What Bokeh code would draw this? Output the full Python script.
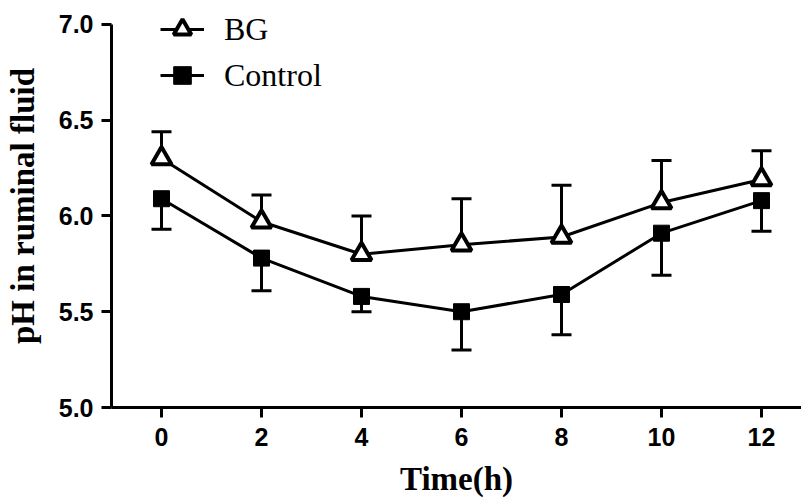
from bokeh.plotting import figure
from bokeh.models import ColumnDataSource, Range1d, FixedTicker, NumeralTickFormatter, Whisker, TeeHead, Legend, LegendItem
from bokeh.embed import file_html
from bokeh.resources import INLINE

time_h = [0, 2, 4, 6, 8, 10, 12]
bg_mean = [6.30, 5.97, 5.80, 5.85, 5.89, 6.07, 6.19]
bg_sd = [0.14, 0.14, 0.20, 0.24, 0.27, 0.22, 0.15]
ctrl_mean = [6.09, 5.78, 5.58, 5.50, 5.59, 5.91, 6.08]
ctrl_sd = [0.16, 0.17, 0.08, 0.20, 0.21, 0.22, 0.16]
x_ticks = [0, 2, 4, 6, 8, 10, 12]
y_ticks = [5.0, 5.5, 6.0, 6.5, 7.0]

bg = ColumnDataSource(dict(t=time_h, m=bg_mean,
                           up=[m + s for m, s in zip(bg_mean, bg_sd)]))
ct = ColumnDataSource(dict(t=time_h, m=ctrl_mean,
                           lo=[m - s for m, s in zip(ctrl_mean, ctrl_sd)]))

p = figure(width=801, height=499, output_backend="svg", toolbar_location=None,
           x_range=Range1d(-1, 12.8), y_range=Range1d(5.0, 7.104),
           min_border_left=111, min_border_right=0, min_border_top=4, min_border_bottom=91)
p.outline_line_color = None
p.grid.visible = False
p.background_fill_color = "white"
p.border_fill_color = "white"

for ax in (p.xaxis[0], p.yaxis[0]):
    ax.axis_line_width = 3
    ax.axis_line_color = "black"
    ax.major_tick_line_width = 3
    ax.major_tick_line_color = "black"
    ax.major_tick_out = 10
    ax.major_tick_in = 0
    ax.minor_tick_line_color = None
    ax.major_label_text_font = "Liberation Sans"
    ax.major_label_text_font_style = "bold"
    ax.major_label_text_font_size = "25px"
    ax.major_label_text_color = "black"
    ax.axis_label_text_font = "Liberation Serif"
    ax.axis_label_text_font_style = "bold"
    ax.axis_label_text_font_size = "33px"
    ax.axis_label_text_color = "black"

p.yaxis.bounds = (5.0, 7.0)
p.xaxis.ticker = FixedTicker(ticks=x_ticks)
p.yaxis.ticker = FixedTicker(ticks=y_ticks)
p.yaxis.formatter = NumeralTickFormatter(format="0.0")
p.xaxis.major_label_standoff = 10
p.yaxis.major_label_standoff = 8
p.xaxis.axis_label = "Time(h)"
p.yaxis.axis_label = "pH in ruminal fluid"
p.xaxis.axis_label_standoff = 12
p.yaxis.axis_label_standoff = 15

wb = Whisker(source=bg, base="t", lower="m", upper="up", line_width=3, line_color="black",
             upper_head=TeeHead(size=20, line_width=3, line_color="black"), lower_head=None)
wc = Whisker(source=ct, base="t", lower="lo", upper="m", line_width=3, line_color="black",
             lower_head=TeeHead(size=20, line_width=3, line_color="black"), upper_head=None)
p.add_layout(wb)
p.add_layout(wc)

l1 = p.line("t", "m", source=bg, line_width=3, line_color="black")
m1 = p.scatter("t", "m", source=bg, marker="triangle", size=20, fill_color="white",
               line_color="black", line_width=4)
l2 = p.line("t", "m", source=ct, line_width=3, line_color="black")
m2 = p.scatter("t", "m", source=ct, marker="square", size=16, fill_color="black",
               line_color="black", line_width=1)

legend = Legend(items=[LegendItem(label="BG", renderers=[l1, m1]),
                       LegendItem(label="Control", renderers=[l2, m2])],
                location=(49, 310), border_line_color=None, background_fill_alpha=0,
                padding=0, margin=0, spacing=2, glyph_width=44, glyph_height=44,
                label_height=44, label_standoff=20,
                label_text_font="Liberation Serif", label_text_font_size="32px",
                label_text_color="black")
p.add_layout(legend)

open("out.html", "w").write(file_html(p, INLINE))
